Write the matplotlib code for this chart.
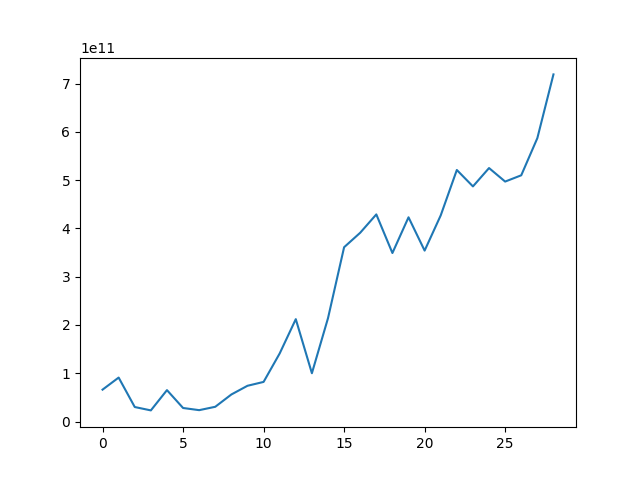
import matplotlib
matplotlib.use('Agg')
import matplotlib.pyplot as plt

# values in units of 1e11
values = [0.66, 0.91, 0.30, 0.23, 0.65, 0.28, 0.235, 0.305, 0.56, 0.74,
          0.82, 1.41, 2.12, 1.00, 2.14, 3.61, 3.91, 4.29, 3.49, 4.23,
          3.54, 4.27, 5.21, 4.87, 5.25, 4.97, 5.10, 5.87, 7.19]
scale = 1e11

fig, ax = plt.subplots(figsize=(6.4, 4.8), dpi=100)
ax.plot(range(len(values)), [v * scale for v in values])
fig.savefig('out.png', dpi=100)
